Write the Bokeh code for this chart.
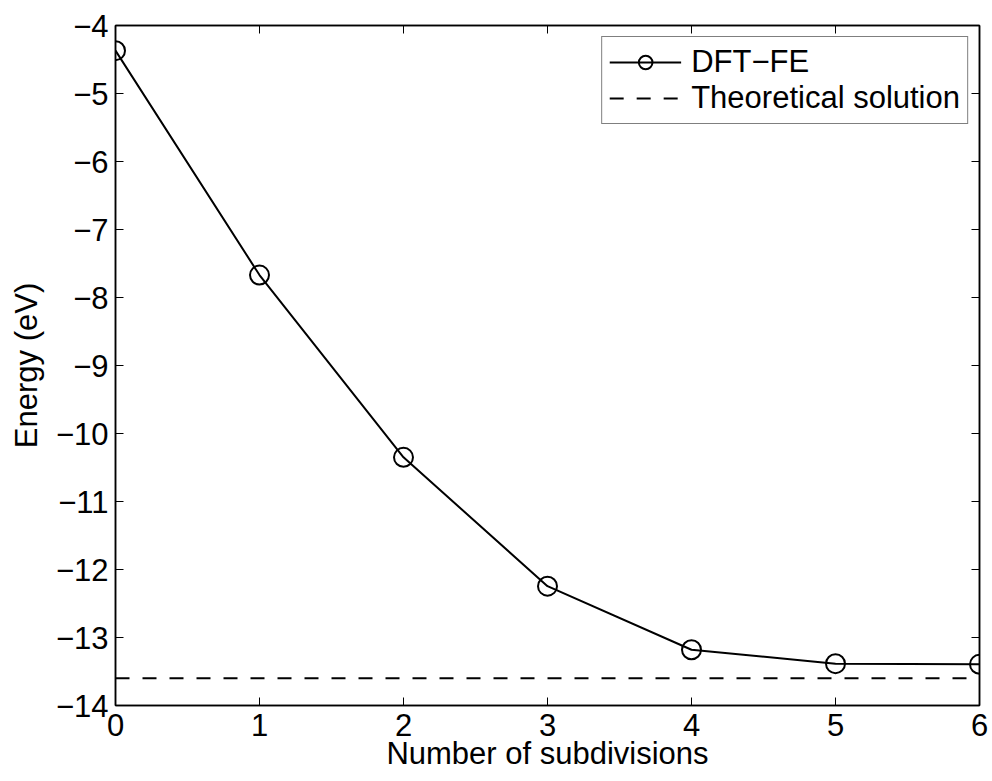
from bokeh.plotting import figure
from bokeh.models import LinearAxis, FixedTicker, CustomJSTickFormatter, Range1d
from bokeh.embed import file_html
from bokeh.resources import INLINE

# ---- data ----
subdivisions = [0, 1, 2, 3, 4, 5, 6]
energy_dft_fe = [-4.37, -7.67, -10.35, -12.245, -13.18, -13.385, -13.395]
theoretical_energy = -13.6
x_ticks = [0, 1, 2, 3, 4, 5, 6]
y_ticks = [-14, -13, -12, -11, -10, -9, -8, -7, -6, -5, -4]

FONT = "Liberation Sans"
FS = "31px"

p = figure(width=992, height=781, output_backend="svg", toolbar_location=None,
           x_range=Range1d(0, 6), y_range=Range1d(-14, -4),
           min_border_left=115, min_border_right=13, min_border_top=25, min_border_bottom=76,
           x_axis_label="Number of subdivisions", y_axis_label="Energy (eV)")
p.grid.visible = False
p.outline_line_color = "black"
p.outline_line_width = 1.5
p.background_fill_color = "white"
p.border_fill_color = "white"

minus_fmt = "return tick < 0 ? '\\u2212' + Math.abs(tick).toString() : tick.toString();"

for ax, ticks in ((p.xaxis[0], x_ticks), (p.yaxis[0], y_ticks)):
    ax.ticker = FixedTicker(ticks=ticks)
    ax.formatter = CustomJSTickFormatter(code=minus_fmt)
    ax.major_tick_in = 8
    ax.major_tick_out = 0
    ax.minor_tick_line_color = None
    ax.axis_line_color = "black"
    ax.axis_line_width = 1.5
    ax.major_tick_line_color = "black"
    ax.major_tick_line_width = 1
    ax.major_label_text_font = FONT
    ax.major_label_text_font_size = FS
    ax.major_label_text_color = "black"
    ax.axis_label_text_font = FONT
    ax.axis_label_text_font_size = FS
    ax.axis_label_text_font_style = "normal"
    ax.axis_label_text_color = "black"

p.xaxis[0].major_label_standoff = 8
p.xaxis[0].axis_label_standoff = -3
p.yaxis[0].major_label_standoff = 7
p.yaxis[0].axis_label_standoff = 9

# mirrored tick marks on top and right
for loc, ticks in (("above", x_ticks), ("right", y_ticks)):
    ax = LinearAxis(ticker=FixedTicker(ticks=ticks),
                    formatter=CustomJSTickFormatter(code="return '';"),
                    major_label_text_font_size="0px",
                    major_tick_in=8, major_tick_out=0, major_label_standoff=0,
                    minor_tick_line_color=None,
                    axis_line_color="black", axis_line_width=1.5,
                    major_tick_line_color="black", major_tick_line_width=1)
    p.add_layout(ax, loc)

# ---- series ----
p.line(subdivisions, energy_dft_fe, line_color="black", line_width=2,
       legend_label="DFT\u2212FE")
p.scatter(subdivisions, energy_dft_fe, marker="circle", size=19, fill_color=None,
          line_color="black", line_width=2, legend_label="DFT\u2212FE")
p.line(subdivisions, [theoretical_energy] * len(subdivisions), line_color="black",
       line_width=2, line_dash="14 13", legend_label="Theoretical solution")

lg = p.legend[0]
lg.location = "top_right"
lg.margin = 11
lg.padding = 7
lg.spacing = 0
lg.glyph_width = 72
lg.glyph_height = 34
lg.label_standoff = 10
lg.label_text_font = FONT
lg.label_text_font_size = FS
lg.label_text_color = "black"
lg.border_line_color = "black"
lg.border_line_width = 1.2
lg.background_fill_color = "white"
lg.background_fill_alpha = 1.0

open("out.html", "w").write(file_html(p, INLINE))
